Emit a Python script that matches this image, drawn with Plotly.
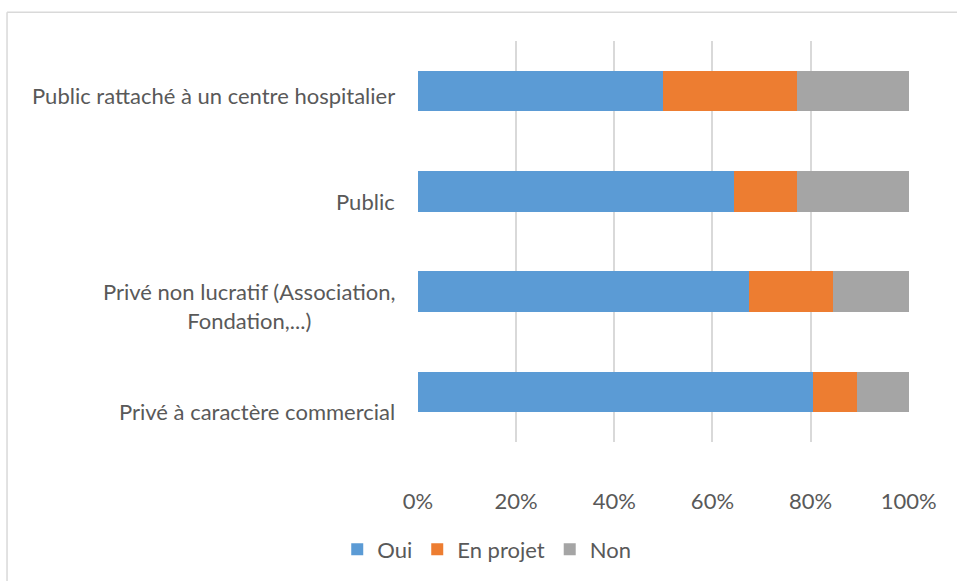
import plotly.graph_objects as go

# categories, top to bottom
categories = [
    "Public rattaché à un centre hospitalier",
    "Public",
    "Privé non lucratif (Association,<br>Fondation,...)",
    "Privé à caractère commercial",
]

# shares (fraction of 1)
oui = [0.500, 0.643, 0.675, 0.804]
en_projet = [0.273, 0.130, 0.171, 0.090]
non = [0.227, 0.227, 0.154, 0.106]

x_ticks = [0, 0.2, 0.4, 0.6, 0.8, 1.0]
x_tick_labels = ["0%", "20%", "40%", "60%", "80%", "100%"]

series = [
    ("Oui", oui, "#5B9BD5"),
    ("En projet", en_projet, "#ED7D31"),
    ("Non", non, "#A5A5A5"),
]

# Excel drifts the category labels a little below their bars
label_shift = [-4, -10, -14, -20]

text_color = "#595959"
font_family = "Lato, Carlito, Calibri, sans-serif"
fsize = 22

fig = go.Figure()
for name, vals, color in series:
    fig.add_trace(go.Bar(
        y=categories, x=vals, name=name, orientation="h",
        marker=dict(color=color, line=dict(width=0)),
    ))

# y labels as annotations so the wrapped label can be centred line by line
for cat, shift in zip(categories, label_shift):
    fig.add_annotation(
        x=-0.043, xref="paper", y=cat, yref="y", yshift=shift,
        text=cat, showarrow=False, xanchor="right", align="center",
        font=dict(size=fsize, color=text_color, family=font_family),
    )

# light chart-area border: only top and left edges are inside the picture
border = dict(color="#D9D9D9", width=1.5)
fig.add_shape(type="line", xref="paper", yref="paper",
              x0=-0.837, x1=1.2, y0=1.072, y1=1.072, line=border, layer="below")
fig.add_shape(type="line", xref="paper", yref="paper",
              x0=-0.837, x1=-0.837, y0=1.072, y1=-0.6, line=border, layer="below")

fig.update_layout(
    width=957, height=581,
    margin=dict(l=418, r=48, t=41, b=138),
    barmode="stack", bargap=0.595,
    paper_bgcolor="white", plot_bgcolor="white",
    font=dict(family=font_family, size=fsize, color=text_color),
    showlegend=True,
    legend=dict(
        orientation="h", x=0.14, xanchor="center", y=-0.265, yanchor="middle",
        font=dict(size=fsize, color=text_color), itemwidth=30, traceorder="normal",
    ),
    xaxis=dict(
        range=[0, 1.0005], tickvals=x_ticks, ticktext=x_tick_labels,
        showgrid=True, gridcolor="#D9D9D9", gridwidth=1.5,
        zeroline=False, showline=False, ticks="",
        ticklabelstandoff=44, fixedrange=True,
    ),
    yaxis=dict(
        autorange="reversed", showticklabels=False, showgrid=False,
        zeroline=False, showline=False, ticks="",
    ),
)

fig.write_html(
    "out.html",
    config={"displayModeBar": False},
    post_script="document.body.style.margin='0';",
)
